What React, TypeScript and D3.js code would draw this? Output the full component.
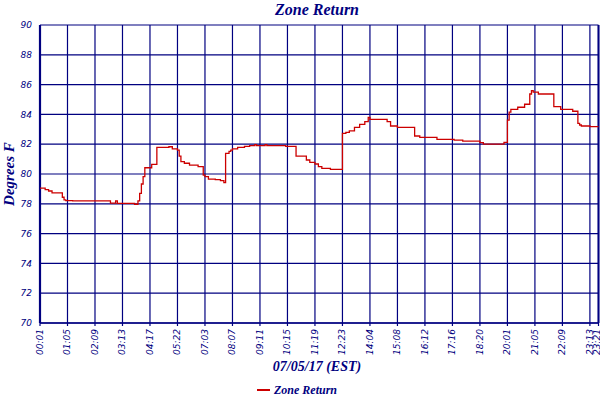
import * as d3 from "d3";

// sample index where each step starts, and the reading held from there
const sampleIdx = [
  0, 3, 5, 7, 13, 14, 15, 19, 41, 44, 45, 55, 57, 58, 59, 60, 61, 65, 68, 75,
  77, 80, 81, 82, 84, 87, 92, 95, 96, 98, 102, 105, 107, 108, 110, 111, 112,
  115, 119, 122, 125, 126, 131, 132, 143, 149, 155, 157, 160, 162, 164, 169,
  176, 178, 180, 183, 186, 189, 191, 192, 202, 204, 208, 218, 221, 231, 241,
  246, 256, 258, 270, 272, 273, 274, 278, 282, 285, 286, 287, 290, 299, 303,
  310, 313, 314, 315, 320, 325,
];
const zoneTemp = [
  79.05, 78.95, 78.86, 78.73, 78.44, 78.26, 78.21, 78.19, 78.05, 78.19, 78.03,
  77.97, 78.2, 78.7, 79.33, 79.82, 80.42, 80.65, 81.79, 81.83, 81.68, 81.6,
  81.2, 80.83, 80.72, 80.6, 80.49, 79.93, 79.82, 79.66, 79.62, 79.55, 79.42,
  81.39, 81.52, 81.6, 81.68, 81.79, 81.86, 81.91, 81.97, 81.91, 81.97, 81.91,
  81.86, 81.2, 80.94, 80.78, 80.67, 80.49, 80.38, 80.31, 82.73, 82.8, 82.9,
  83.13, 83.33, 83.51, 83.8, 83.67, 83.51, 83.22, 83.13, 82.55, 82.46, 82.33,
  82.28, 82.21, 82.1, 82.0, 82.12, 83.62, 84.15, 84.34, 84.48, 84.68, 85.37,
  85.59, 85.5, 85.37, 84.52, 84.34, 84.21, 83.4, 83.29, 83.22, 83.18, 83.18,
];

const tickIdx = [
  0, 16, 32, 48, 64, 80, 96, 112, 128, 144, 160, 176, 192, 208, 224, 240, 256,
  272, 288, 304, 320, 325,
];
const tickLabels = [
  "00:01", "01:05", "02:09", "03:13", "04:17", "05:22", "07:03", "08:07",
  "09:11", "10:15", "11:19", "12:23", "14:04", "15:08", "16:12", "17:16",
  "18:20", "20:01", "21:05", "22:09", "23:13", "23:21",
];
const yTicks = [70, 72, 74, 76, 78, 80, 82, 84, 86, 88, 90];

const NAVY = "#000080";
const RED = "#cc0000";
const TITLE_FONT = "'Liberation Serif', serif";
const TICK_FONT = "'DejaVu Sans', sans-serif";

export default function App() {
  const x = d3.scaleLinear().domain([0, 325]).range([40, 598.5]);
  const y = d3.scaleLinear().domain([70, 90]).range([323, 25]);

  const points: [number, number][] = sampleIdx.map((d, i) => [d, zoneTemp[i]]);
  const line = d3
    .line<[number, number]>()
    .x((d) => x(d[0]))
    .y((d) => y(d[1]))
    .curve(d3.curveStepAfter);

  return (
    <div style={{ position: "absolute", left: 0, top: 0 }}>
      <svg width={600} height={400} style={{ display: "block", background: "#fff" }}>
        <text
          x={317}
          y={15}
          textAnchor="middle"
          fill={NAVY}
          fontFamily={TITLE_FONT}
          fontStyle="italic"
          fontWeight="bold"
          fontSize={16}
        >
          Zone Return
        </text>

        {/* horizontal grid + y labels */}
        {yTicks.map((t) => (
          <g key={t}>
            <line x1={x(0)} x2={x(325)} y1={y(t)} y2={y(t)} stroke={NAVY} strokeWidth={1.2} />
            <text
              x={32}
              y={y(t)}
              dy="0.35em"
              textAnchor="end"
              fill={NAVY}
              fontFamily={TICK_FONT}
              fontStyle="italic"
              fontSize={9}
            >
              {t}
            </text>
          </g>
        ))}

        {/* vertical grid + x labels */}
        {tickIdx.map((t, i) => (
          <g key={t}>
            <line x1={x(t)} x2={x(t)} y1={y(90)} y2={y(70) + 3} stroke={NAVY} strokeWidth={1.2} />
            <text
              transform={`translate(${Math.min(x(t) + 3, 599.5)},${y(70) + 6}) rotate(-90)`}
              textAnchor="end"
              fill={NAVY}
              fontFamily={TICK_FONT}
              fontStyle="italic"
              fontSize={9}
            >
              {tickLabels[i]}
            </text>
          </g>
        ))}

        {/* frame */}
        <line x1={x(0)} x2={x(0)} y1={y(90)} y2={y(70)} stroke={NAVY} strokeWidth={2.2} />
        <line x1={x(325)} x2={x(325)} y1={y(90)} y2={y(70)} stroke={NAVY} strokeWidth={2} />
        <line x1={x(0)} x2={x(325)} y1={y(70)} y2={y(70)} stroke={NAVY} strokeWidth={1.6} />

        <path d={line(points) || ""} fill="none" stroke={RED} strokeWidth={1.3} />

        <text
          transform={`translate(14,${(y(70) + y(90)) / 2}) rotate(-90)`}
          textAnchor="middle"
          fill={NAVY}
          fontFamily={TITLE_FONT}
          fontStyle="italic"
          fontWeight="bold"
          fontSize={15}
        >
          Degrees F
        </text>

        <text
          x={317}
          y={371}
          textAnchor="middle"
          fill={NAVY}
          fontFamily={TITLE_FONT}
          fontStyle="italic"
          fontWeight="bold"
          fontSize={14}
        >
          07/05/17 (EST)
        </text>

        {/* legend */}
        <line x1={257} x2={270} y1={390} y2={390} stroke={RED} strokeWidth={2} />
        <text
          x={274}
          y={393.5}
          fill={NAVY}
          fontFamily={TITLE_FONT}
          fontStyle="italic"
          fontWeight="bold"
          fontSize={12}
        >
          Zone Return
        </text>
      </svg>
    </div>
  );
}
